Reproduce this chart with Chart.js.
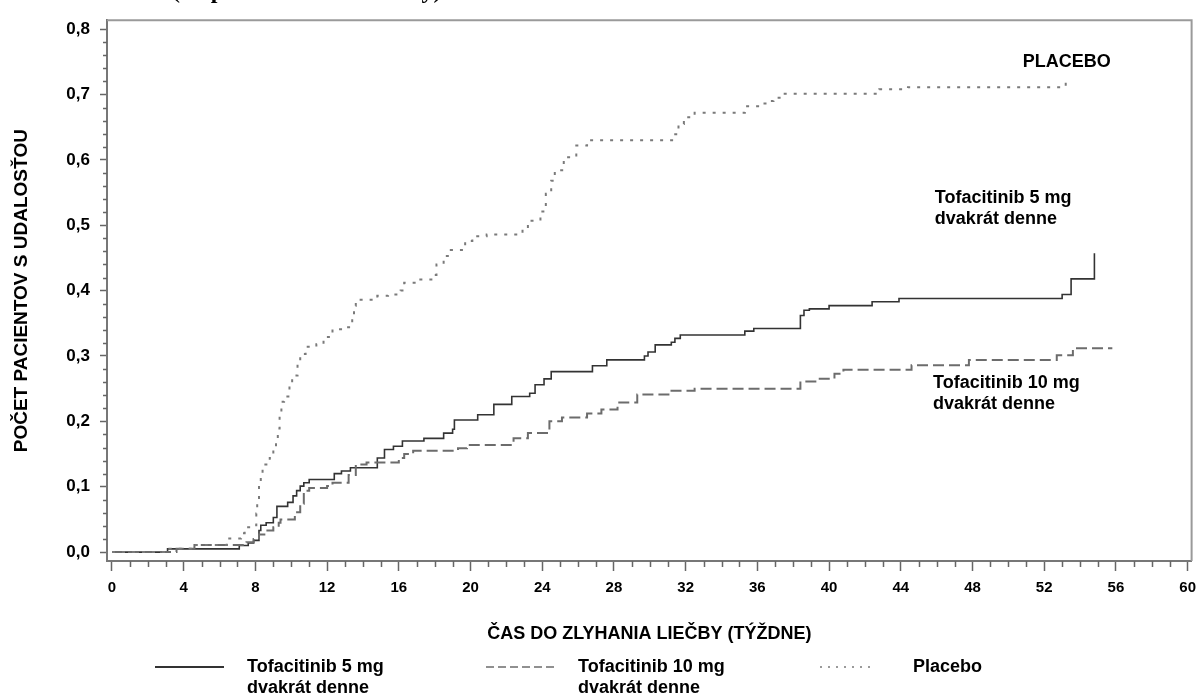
<!DOCTYPE html>
<html>
<head>
<meta charset="utf-8">
<script src="https://cdn.jsdelivr.net/npm/chart.js"></script>
<style>
  html, body { margin: 0; padding: 0; background: #fff; }
  canvas { display: block; }
</style>
</head>
<body>
<canvas id="kmChart" width="1204" height="697"></canvas>
<script>
// cumulative proportion with event (step curve), weeks where the curve jumps
const tof5Weeks = [0, 3.1, 7.1, 7.6, 7.9, 8.2, 8.3, 8.6, 9.0, 9.2, 9.8, 10.1, 10.3, 10.5, 10.7, 11.0,
    12.4, 12.8, 13.3, 14.8, 15.2, 15.7, 16.2, 17.4, 18.5, 19.0, 19.1, 20.4, 21.3, 22.3, 23.3, 23.6,
    24.1, 24.5, 26.8, 27.6, 29.7, 29.9, 30.3, 31.2, 31.4, 31.7, 35.3, 35.8, 38.4, 38.6, 38.9, 40.0,
    42.4, 43.9, 53.0, 53.5, 54.8];
const tof5Rate = [0, 0.005, 0.010, 0.014, 0.018, 0.033, 0.041, 0.045, 0.053, 0.070, 0.076, 0.086, 0.094, 0.101, 0.106, 0.111,
    0.120, 0.124, 0.129, 0.144, 0.157, 0.162, 0.170, 0.174, 0.182, 0.188, 0.202, 0.210, 0.226, 0.238, 0.243, 0.256,
    0.265, 0.276, 0.285, 0.294, 0.300, 0.306, 0.317, 0.321, 0.327, 0.332, 0.338, 0.342, 0.362, 0.370, 0.372, 0.377,
    0.383, 0.388, 0.394, 0.418, 0.457];

const tof10Weeks = [0, 3.6, 4.6, 7.5, 7.9, 8.2, 8.6, 9.0, 9.3, 9.4, 10.2, 10.5, 10.7, 10.8, 11.0, 12.0,
    12.3, 13.2, 13.6, 14.2, 16.0, 16.3, 16.8, 19.3, 19.8, 22.4, 23.2, 24.4, 25.1, 26.5, 27.3, 28.2,
    29.3, 31.1, 32.5, 38.4, 39.4, 40.3, 40.8, 44.6, 47.8, 52.7, 53.6, 55.8];
const tof10Rate = [0, 0.005, 0.011, 0.015, 0.020, 0.027, 0.033, 0.038, 0.045, 0.050, 0.061, 0.074, 0.089, 0.094, 0.098, 0.101,
    0.106, 0.118, 0.134, 0.137, 0.144, 0.150, 0.155, 0.159, 0.164, 0.174, 0.182, 0.200, 0.206, 0.212, 0.218, 0.229,
    0.241, 0.247, 0.250, 0.261, 0.265, 0.273, 0.279, 0.286, 0.294, 0.301, 0.312, 0.312];

const placeboWeeks = [0, 3.2, 4.6, 6.4, 7.2, 7.4, 7.8, 8.05, 8.1, 8.2, 8.3, 8.4, 8.8, 9.0, 9.15, 9.25,
    9.35, 9.45, 9.6, 9.9, 10.05, 10.35, 10.5, 10.8, 11.4, 11.8, 12.3, 13.1, 13.4, 13.5, 13.6, 14.8,
    15.4, 16.1, 16.3, 17.2, 17.9, 18.1, 18.5, 18.9, 19.7, 20.1, 20.9, 22.9, 23.2, 23.9, 24.2, 24.5,
    24.7, 25.2, 25.9, 26.5, 31.3, 31.6, 31.9, 32.5, 35.3, 36.2, 36.6, 36.9, 37.4, 42.8, 44.4, 53.2];
const placeboRate = [0, 0.005, 0.011, 0.021, 0.029, 0.038, 0.041, 0.059, 0.074, 0.105, 0.114, 0.134, 0.144, 0.157, 0.174, 0.189,
    0.210, 0.230, 0.238, 0.256, 0.270, 0.288, 0.303, 0.314, 0.318, 0.329, 0.341, 0.344, 0.362, 0.377, 0.386, 0.392,
    0.394, 0.400, 0.412, 0.417, 0.424, 0.440, 0.453, 0.462, 0.476, 0.483, 0.486, 0.495, 0.507, 0.521, 0.548, 0.568,
    0.584, 0.604, 0.622, 0.630, 0.639, 0.655, 0.665, 0.672, 0.682, 0.686, 0.690, 0.695, 0.701, 0.708, 0.711, 0.718];

const seriesNames = ['Tofacitinib 5 mg dvakrát denne', 'Tofacitinib 10 mg dvakrát denne', 'Placebo'];
const legendLines = [['Tofacitinib 5 mg', 'dvakrát denne'], ['Tofacitinib 10 mg', 'dvakrát denne'], ['Placebo']];
const curveLabels = [
    { lines: ['PLACEBO'], week: 50.8, rate: 0.75 },
    { lines: ['Tofacitinib 5 mg', 'dvakrát denne'], week: 45.9, rate: 0.542 },
    { lines: ['Tofacitinib 10 mg', 'dvakrát denne'], week: 45.8, rate: 0.258 }
];
const yTitle = 'POČET PACIENTOV S UDALOSŤOU';
const xTitle = 'ČAS DO ZLYHANIA LIEČBY (TÝŽDNE)';
const topTitle = '(Kaplan-Meierove krivky)';

function toPoints(weeks, rates) {
    return weeks.map((w, i) => ({ x: w, y: rates[i] }));
}

const FONT = '"Liberation Sans", Arial, sans-serif';
Chart.defaults.font.family = FONT;
Chart.defaults.color = '#000';

const styles = [
    { color: '#333', width: 1.6, dash: [] },
    { color: '#6c6c6c', width: 2, dash: [11, 5] },
    { color: '#7a7a7a', width: 2, dash: [3, 7] }
];

// frame, minor ticks, curve labels, legend
const decorations = {
    id: 'decorations',
    afterDraw(chart) {
        const { ctx, chartArea: a, scales: { x, y } } = chart;
        ctx.save();

        ctx.strokeStyle = '#9a9a9a';
        ctx.lineWidth = 2;
        ctx.beginPath();
        ctx.moveTo(a.left, a.top);
        ctx.lineTo(a.right, a.top);
        ctx.lineTo(a.right, a.bottom);
        ctx.stroke();

        ctx.strokeStyle = '#666';
        ctx.lineWidth = 1.5;
        ctx.beginPath();
        for (let w = 0; w <= 60; w++) {
            if (w % 4 === 0) continue;
            const px = Math.round(x.getPixelForValue(w)) + 0.5;
            ctx.moveTo(px, a.bottom);
            ctx.lineTo(px, a.bottom + 6);
        }
        for (let k = 0; k <= 40; k++) {
            if (k % 5 === 0) continue;
            const py = Math.round(y.getPixelForValue(k * 0.02)) + 0.5;
            ctx.moveTo(a.left - 4, py);
            ctx.lineTo(a.left, py);
        }
        ctx.stroke();

        ctx.fillStyle = '#000';
        ctx.font = 'bold 18px ' + FONT;
        ctx.textAlign = 'left';
        ctx.textBaseline = 'middle';
        curveLabels.forEach(lbl => {
            const lx = x.getPixelForValue(lbl.week);
            const ly = y.getPixelForValue(lbl.rate);
            lbl.lines.forEach((t, i) => ctx.fillText(t, lx, ly + i * 21));
        });

        // legend below the axis title
        const legendY = 667;
        const legendItems = [
            { x0: 155, x1: 224, tx: 247 },
            { x0: 486, x1: 558, tx: 578 },
            { x0: 820, x1: 872, tx: 913 }
        ];
        legendItems.forEach((it, i) => {
            const st = styles[i];
            ctx.strokeStyle = st.color;
            ctx.lineWidth = i === 0 ? 2 : 1.6;
            ctx.setLineDash(i === 1 ? [8, 4] : i === 2 ? [2, 6] : []);
            ctx.beginPath();
            ctx.moveTo(it.x0, legendY);
            ctx.lineTo(it.x1, legendY);
            ctx.stroke();
            ctx.setLineDash([]);
            legendLines[i].forEach((t, j) => ctx.fillText(t, it.tx, legendY + j * 21));
        });

        // page title above, mostly cut off by the top edge
        ctx.font = 'bold 24px "Liberation Serif", "Times New Roman", serif';
        ctx.textBaseline = 'alphabetic';
        ctx.fillText(topTitle, 172, -2);

        ctx.restore();
    }
};

new Chart(document.getElementById('kmChart'), {
    type: 'line',
    data: {
        datasets: [
            { label: seriesNames[2], data: toPoints(placeboWeeks, placeboRate) },
            { label: seriesNames[1], data: toPoints(tof10Weeks, tof10Rate) },
            { label: seriesNames[0], data: toPoints(tof5Weeks, tof5Rate) }
        ].map(ds => {
            const st = styles[seriesNames.indexOf(ds.label)];
            return Object.assign(ds, {
                borderColor: st.color,
                borderWidth: st.width,
                borderDash: st.dash,
                pointRadius: 0,
                fill: false,
                stepped: 'before',
                tension: 0
            });
        })
    },
    options: {
        responsive: false,
        animation: false,
        layout: { padding: { left: 0, top: 15, right: 8, bottom: 52 } },
        plugins: {
            legend: { display: false },
            tooltip: { enabled: false }
        },
        scales: {
            x: {
                type: 'linear',
                min: -0.278,
                max: 60.222,
                afterFit: s => { s.height = 84; },
                border: { display: true, color: '#777', width: 2 },
                grid: { drawOnChartArea: false, drawTicks: true, tickLength: 10, tickColor: '#666', tickWidth: 1.5 },
                ticks: {
                    stepSize: 4,
                    includeBounds: false,
                    autoSkip: false,
                    maxRotation: 0,
                    padding: 8,
                    color: '#000',
                    font: { size: 15, weight: 'bold' }
                },
                title: {
                    display: true,
                    text: xTitle,
                    color: '#000',
                    padding: 0,
                    font: { size: 18, weight: 'bold' }
                }
            },
            y: {
                type: 'linear',
                min: -0.0136,
                max: 0.8136,
                afterFit: s => { s.width = 107; },
                border: { display: true, color: '#777', width: 2 },
                grid: { drawOnChartArea: false, drawTicks: true, tickLength: 7, tickColor: '#666', tickWidth: 1.5 },
                ticks: {
                    stepSize: 0.1,
                    includeBounds: false,
                    padding: 10,
                    color: '#000',
                    font: { size: 17, weight: 'bold' },
                    callback: v => v.toFixed(1).replace('.', ',')
                },
                title: {
                    display: true,
                    text: yTitle,
                    color: '#000',
                    padding: { top: 10, bottom: 0 },
                    font: { size: 19, weight: 'bold' }
                }
            }
        }
    },
    plugins: [decorations]
});
</script>
</body>
</html>
